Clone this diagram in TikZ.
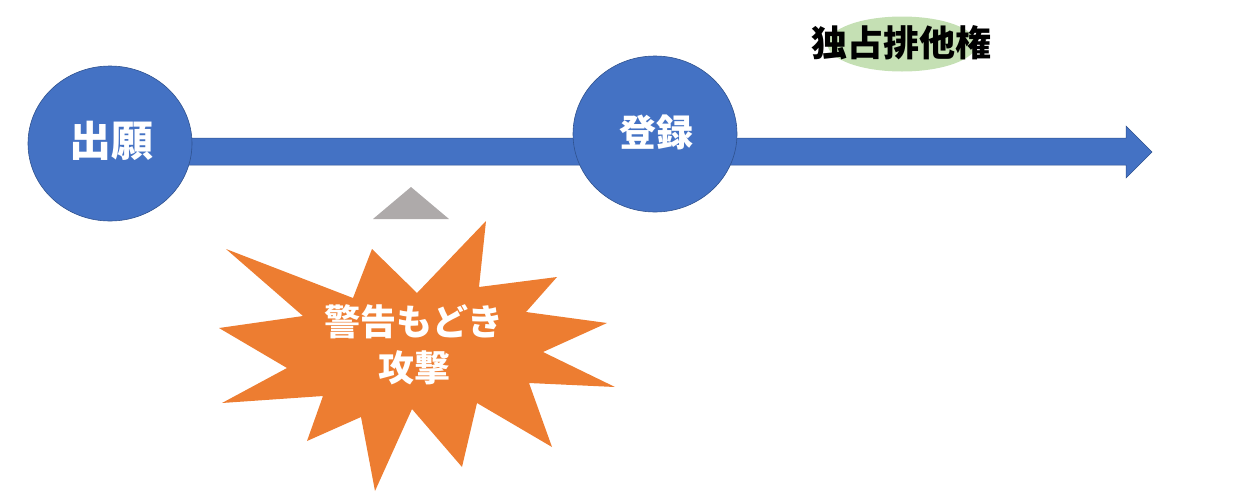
\documentclass[tikz,border=0pt]{standalone}
\usepackage{fontspec}
\newfontfamily\jp{Noto Sans CJK JP}
\usetikzlibrary{shapes.geometric}
\definecolor{cblue}{HTML}{4472C4}
\definecolor{cedge}{HTML}{2F528F}
\definecolor{corange}{HTML}{ED7D31}
\definecolor{cgreen}{HTML}{C5E0B4}
\definecolor{cgray}{HTML}{AEAAAA}
\tikzset{
  stage/.style={ellipse, fill=cblue, draw=cedge, line width=0.6pt, inner sep=0pt, text=white},
  jptext/.style={font=\jp\bfseries},
}
\begin{document}
\begin{tikzpicture}[x=1pt,y=-1pt]
\useasboundingbox (0,0) rectangle (1241,496);
% timeline arrow
\coordinate (tip) at (1152,152);
\fill[cblue, draw=cedge, line width=0.5pt] (110,138) -- (1126,138) -- (1126,126) -- (tip) -- (1126,178) -- (1126,165) -- (110,165) -- cycle;
% stages
\node[stage, minimum width=164pt, minimum height=155pt] (app) at (110,143.5) {};
\node[jptext, text=white, font=\jp\bfseries\fontsize{42}{42}\selectfont] (appt) at (111,141) {出願};
\node[stage, minimum width=164pt, minimum height=156pt] (reg) at (655,134) {};
\node[jptext, text=white, font=\jp\bfseries\fontsize{37}{37}\selectfont] (regt) at (656,132) {登録};
% exclusive right
\node[ellipse, fill=cgreen, minimum width=149pt, minimum height=55pt, inner sep=0pt] (excl) at (902,44) {};
\node[font=\jp\bfseries\fontsize{36}{36}\selectfont] (exclt) at (901,43) {独占排他権};
% gray triangle
\fill[cgray] (411,187) -- (449,219) -- (373,219) -- cycle;
% starburst
\fill[corange] (226,249) -- (353,298) -- (372,249) -- (417,293) -- (486,221) -- (479,287)
  -- (557,277) -- (526,312) -- (607,323) -- (543,352) -- (615,387) -- (529,383)
  -- (552,447) -- (477,403) -- (462,467) -- (412,409) -- (375,491) -- (361,417)
  -- (307,441) -- (323,396) -- (222,403) -- (287,368) -- (219,328) -- (303,316) -- cycle;
\node[text=white, align=center, font=\jp\bfseries\fontsize{36}{46}\selectfont] (attack) at (414,345) {警告もどき\\攻撃};
\end{tikzpicture}
\end{document}
